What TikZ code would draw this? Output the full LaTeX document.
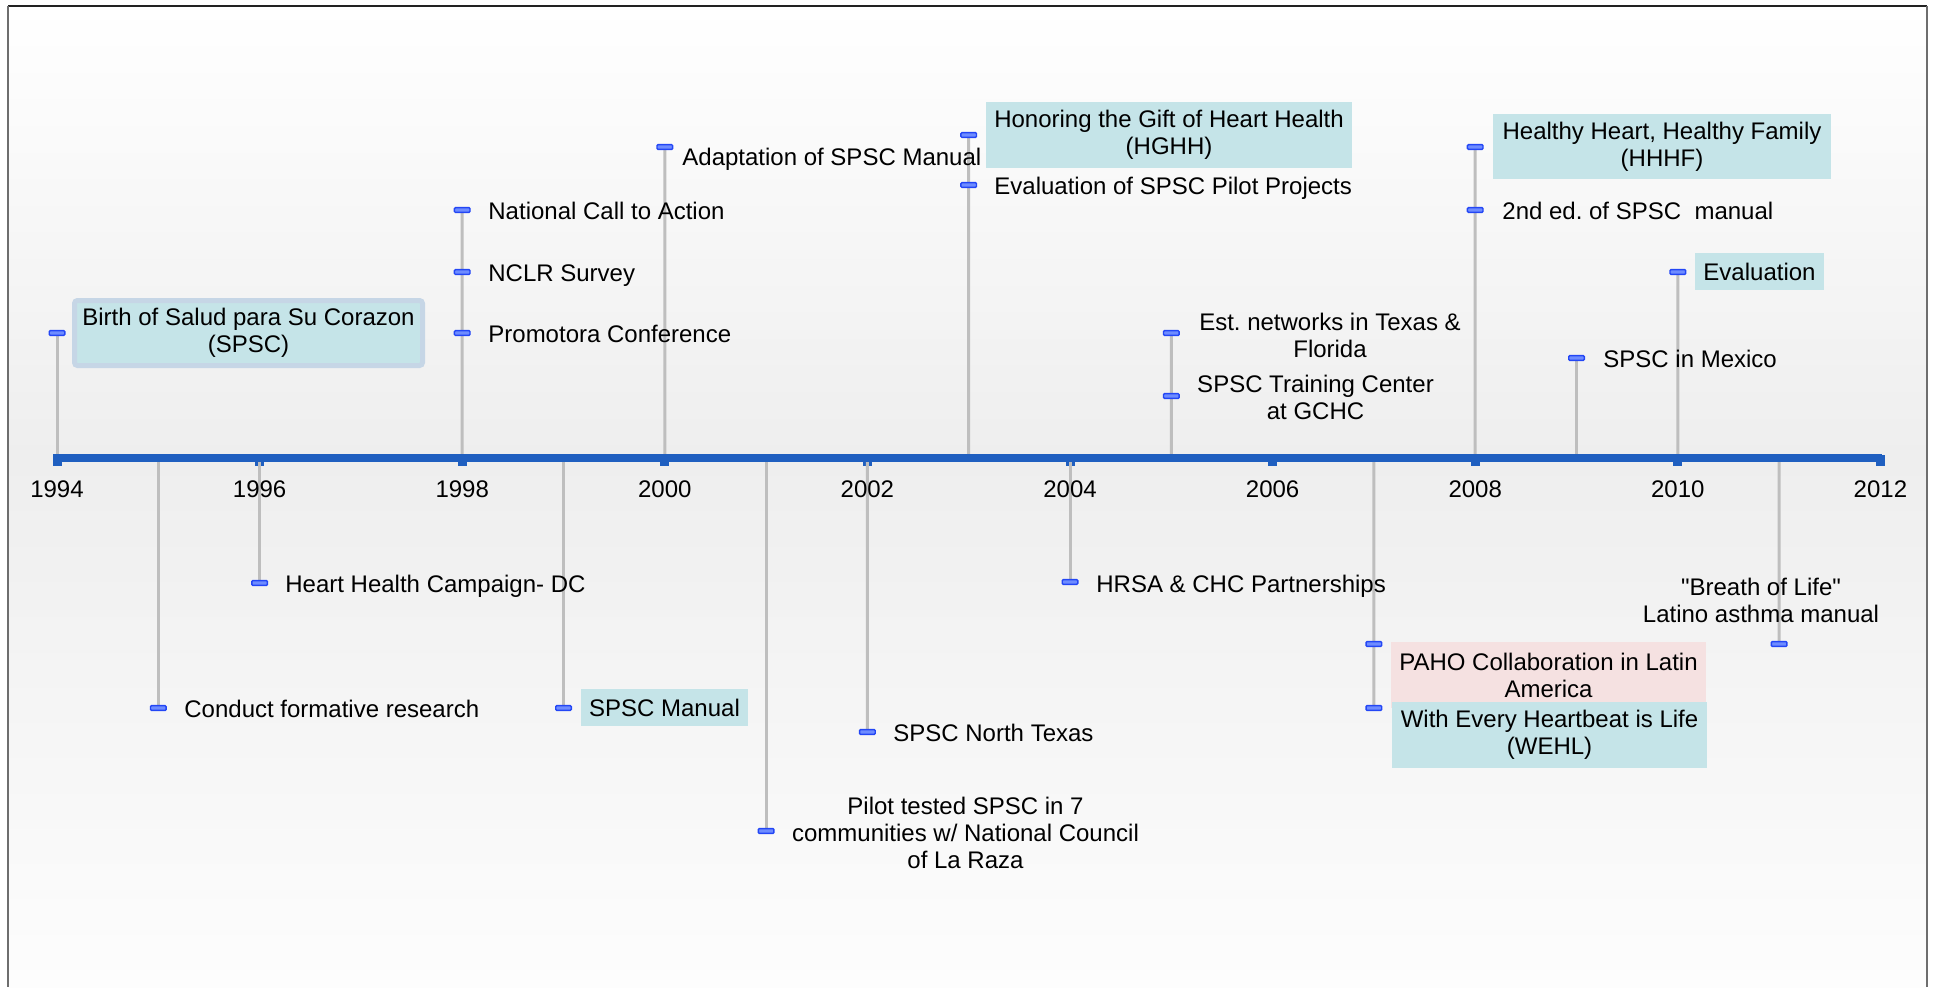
\documentclass[tikz,border=0pt]{standalone}
\usepackage{fontspec}
\setmainfont{Liberation Sans}
\newfontfamily\lbfont{Liberation Sans}
\definecolor{axisblue}{RGB}{31,95,192}
\definecolor{stemgray}{RGB}{190,190,190}
\definecolor{mkfill}{RGB}{110,140,255}
\definecolor{mkdraw}{RGB}{35,70,245}
\definecolor{cyanbox}{RGB}{197,228,232}
\definecolor{pinkbox}{RGB}{245,225,225}
\definecolor{boxborder}{RGB}{198,214,230}
\definecolor{bgmid}{RGB}{238,238,238}
\definecolor{bgbot}{RGB}{253,253,253}
\definecolor{frametop}{RGB}{34,34,34}
\definecolor{frameside}{RGB}{110,110,110}
\begin{document}
\begin{tikzpicture}[x=0.5pt,y=-0.5pt,
  every node/.style={font=\lbfont\fontsize{12pt}{13.5pt}\selectfont\frenchspacing, inner sep=0pt, text=black},
  stemline/.style={draw=stemgray, line width=1.5pt},
  evmark/.style={rectangle, draw=mkdraw, fill=mkfill, line width=0.7pt, minimum width=7.8pt, minimum height=2.4pt, rounded corners=0.5pt, inner sep=0pt},
  lbl/.style={anchor=base west},
  ctext/.style={align=center},
  cbox/.style={rectangle, fill=cyanbox, align=center},
  pbox/.style={rectangle, fill=pinkbox, align=center},
  yearlbl/.style={anchor=base},
  axisline/.style={draw=axisblue, line width=4pt},
]
\useasboundingbox (0,0) rectangle (1937,987);
% background
\fill[white] (0,0) rectangle (1937,987);
\shade[top color=white, bottom color=bgmid] (8,6) rectangle (1927,458);
\shade[top color=bgmid, bottom color=bgbot] (8,458) rectangle (1927,987);
\draw[frametop, line width=0.75pt] (8,6) -- (1927,6);
\draw[frameside, line width=1pt] (8,6) -- (8,987);
\draw[frameside, line width=1pt] (1927,6) -- (1927,987);

% axis coordinates
\foreach \yr in {1994,...,2012} {
  \coordinate (ax\yr) at ({57+(\yr-1994)*101.3},458);
}
\coordinate (axL) at (53,458);
\coordinate (axR) at (1882,458);

% ticks at even years
\foreach \yr in {1994,1996,...,2012} {
  \fill[axisblue] ({57+(\yr-1994)*101.3-4.5},455) rectangle ++(9,11);
}

% marker positions
\coordinate (p94) at (57,333);
\coordinate (p95) at (158.3,708);
\coordinate (p96) at (259.6,583);
\coordinate (p98a) at (462.2,210);
\coordinate (p98b) at (462.2,272);
\coordinate (p98c) at (462.2,333);
\coordinate (p99) at (563.5,708);
\coordinate (p00) at (664.8,147);
\coordinate (p01) at (766.1,831);
\coordinate (p02) at (867.4,732);
\coordinate (p03a) at (968.7,135);
\coordinate (p03b) at (968.7,185);
\coordinate (p04) at (1070,582);
\coordinate (p05a) at (1171.3,333);
\coordinate (p05b) at (1171.3,396);
\coordinate (p07a) at (1373.9,644);
\coordinate (p07b) at (1373.9,708);
\coordinate (p08a) at (1475.2,147);
\coordinate (p08b) at (1475.2,210);
\coordinate (p09) at (1576.5,358);
\coordinate (p10) at (1677.8,272);
\coordinate (p11) at (1779.1,644);

% stems
\draw[stemline] (ax1994) -- (p94);
\draw[stemline] (ax1995) -- (p95);
\draw[stemline] (ax1996) -- (p96);
\draw[stemline] (ax1998) -- (p98a);
\draw[stemline] (ax1999) -- (p99);
\draw[stemline] (ax2000) -- (p00);
\draw[stemline] (ax2001) -- (p01);
\draw[stemline] (ax2002) -- (p02);
\draw[stemline] (ax2003) -- (p03a);
\draw[stemline] (ax2004) -- (p04);
\draw[stemline] (ax2005) -- (p05a);
\draw[stemline] (ax2007) -- (p07b);
\draw[stemline] (ax2008) -- (p08a);
\draw[stemline] (ax2009) -- (p09);
\draw[stemline] (ax2010) -- (p10);
\draw[stemline] (ax2011) -- (p11);

% axis
\draw[axisline] (axL) -- (axR);

% year labels
\foreach \yr in {1994,1996,...,2012} {
  \node[yearlbl] (yl\yr) at ({57+(\yr-1994)*101.3},497) {\yr};
}

% boxes
\node[cbox, draw=boxborder, line width=2.5pt, rounded corners=1.5pt, minimum width=174pt, minimum height=32.5pt] (b94) at (248.5,333) {Birth of Salud para Su Corazon\\(SPSC)};
\node[cbox, minimum width=183pt, minimum height=33pt] (b03) at (1169,135) {Honoring the Gift of Heart Health\\(HGHH)};
\node[cbox, minimum width=169pt, minimum height=32.5pt] (b08) at (1662,146.5) {Healthy Heart, Healthy Family\\(HHHF)};
\node[cbox, minimum width=64.5pt, minimum height=18.5pt] (b10) at (1759.5,271.5) {Evaluation};
\node[cbox, minimum width=83.5pt, minimum height=18.5pt] (b99) at (664.5,707.5) {SPSC Manual};
\node[pbox, minimum width=157.5pt, minimum height=33pt] (b07a) at (1548.5,675) {PAHO Collaboration in Latin\\America};
\node[cbox, minimum width=157.5pt, minimum height=33pt] (b07b) at (1549.5,735) {With Every Heartbeat is Life\\(WEHL)};

% markers
\foreach \p in {p94,p95,p96,p98a,p98b,p98c,p99,p00,p01,p02,p03a,p03b,p04,p05a,p05b,p07a,p07b,p08a,p08b,p09,p10,p11} {
  \node[evmark] (mk-\p) at (\p) {};
}

% labels
\node[lbl] (t95) at (184,717.5) {Conduct formative research};
\node[lbl] (t96) at (285,592.5) {Heart Health Campaign- DC};
\node[lbl] (t98a) at (488,219.5) {National Call to Action};
\node[lbl] (t98b) at (488,281.5) {NCLR Survey};
\node[lbl] (t98c) at (488,342.5) {Promotora Conference};
\node[lbl] (t00) at (682,165.5) {Adaptation of SPSC Manual};
\node[ctext] (t01) at (965.5,832.5) {Pilot tested SPSC in 7\\communities w/ National Council\\of La Raza};
\node[lbl] (t02) at (893,741.5) {SPSC North Texas};
\node[lbl] (t03b) at (994,194.5) {Evaluation of SPSC Pilot Projects};
\node[lbl] (t04) at (1096,592.5) {HRSA \& CHC Partnerships};
\node[ctext] (t05a) at (1330,335) {Est. networks in Texas \&\\Florida};
\node[ctext] (t05b) at (1315.5,397) {SPSC Training Center\\at GCHC};
\node[lbl] (t08b) at (1502,219.5) {2nd ed. of SPSC\ \ manual};
\node[lbl] (t09) at (1603,367.5) {SPSC in Mexico};
\node[ctext] (t11) at (1761,600.5) {"Breath of Life"\\Latino asthma manual};
\end{tikzpicture}
\end{document}
